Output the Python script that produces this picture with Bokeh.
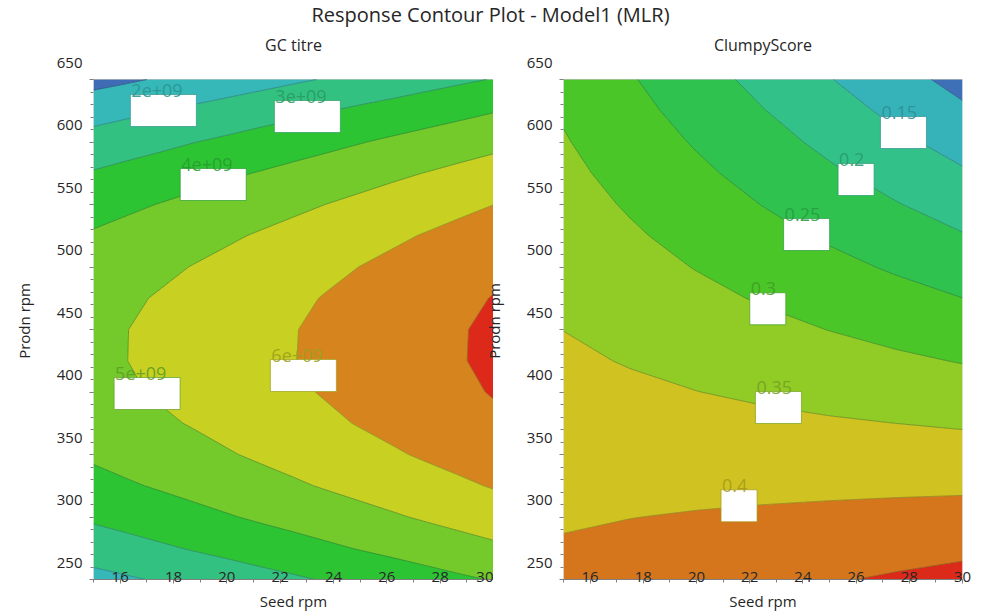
import numpy as np
from bokeh.plotting import figure
from bokeh.layouts import column, row
from bokeh.models import (Label, FixedTicker, Range1d, ColumnDataSource,
                          LinearAxis, BoxAnnotation, CustomJSTickFormatter)
from bokeh.core.properties import value
from bokeh.embed import file_html
from bokeh.resources import INLINE

# ---------------- data ----------------
prodn_rpm = [250, 275, 300, 325, 350, 375, 400, 425, 450,
             475, 500, 525, 550, 575, 600, 625, 650]

# GC titre, in units of 1e9: columns = Seed rpm, rows = Prodn rpm
gc_seed_rpm = [15, 16.25, 17.5, 18.75, 20, 21.25, 22.5, 23.75, 25,
               26.25, 27.5, 28.75, 30]
gc_titre_e9 = [
    [1.70, 1.89, 2.09, 2.29, 2.48, 2.68, 2.87, 3.07, 3.27, 3.46, 3.66, 3.86, 4.05],
    [2.48, 2.67, 2.87, 3.07, 3.26, 3.46, 3.65, 3.85, 4.05, 4.24, 4.44, 4.64, 4.83],
    [3.15, 3.34, 3.54, 3.73, 3.93, 4.13, 4.32, 4.52, 4.72, 4.91, 5.11, 5.30, 5.50],
    [3.70, 3.90, 4.09, 4.29, 4.49, 4.68, 4.88, 5.08, 5.27, 5.47, 5.66, 5.86, 6.06],
    [4.14, 4.34, 4.54, 4.73, 4.93, 5.13, 5.32, 5.52, 5.71, 5.91, 6.11, 6.30, 6.50],
    [4.48, 4.67, 4.87, 5.06, 5.26, 5.46, 5.65, 5.85, 6.05, 6.24, 6.44, 6.63, 6.83],
    [4.69, 4.89, 5.09, 5.28, 5.48, 5.67, 5.87, 6.07, 6.26, 6.46, 6.66, 6.85, 7.05],
    [4.80, 4.995, 5.19, 5.39, 5.58, 5.78, 5.98, 6.17, 6.37, 6.57, 6.76, 6.96, 7.15],
    [4.79, 4.99, 5.18, 5.38, 5.58, 5.77, 5.97, 6.17, 6.36, 6.56, 6.75, 6.95, 7.15],
    [4.67, 4.87, 5.07, 5.26, 5.46, 5.65, 5.85, 6.05, 6.24, 6.44, 6.64, 6.83, 7.03],
    [4.44, 4.64, 4.83, 5.03, 5.23, 5.42, 5.62, 5.82, 6.01, 6.21, 6.40, 6.60, 6.80],
    [4.10, 4.29, 4.49, 4.69, 4.88, 5.08, 5.27, 5.47, 5.67, 5.86, 6.06, 6.26, 6.45],
    [3.64, 3.84, 4.03, 4.23, 4.43, 4.62, 4.82, 5.01, 5.21, 5.41, 5.60, 5.80, 5.995],
    [3.07, 3.27, 3.46, 3.66, 3.86, 4.05, 4.25, 4.45, 4.64, 4.84, 5.03, 5.23, 5.43],
    [2.39, 2.59, 2.78, 2.98, 3.17, 3.37, 3.57, 3.76, 3.96, 4.16, 4.35, 4.55, 4.74],
    [1.60, 1.79, 1.99, 2.18, 2.38, 2.58, 2.77, 2.97, 3.17, 3.36, 3.56, 3.75, 3.95],
    [0.69, 0.88, 1.08, 1.28, 1.47, 1.67, 1.87, 2.06, 2.26, 2.45, 2.65, 2.85, 3.04],
]

# ClumpyScore: columns = Seed rpm, rows = Prodn rpm
cs_seed_rpm = [15, 17.5, 20, 22.5, 25, 27.5, 30]
clumpy_score = [
    [0.4114, 0.4202, 0.4289, 0.4377, 0.4464, 0.4552, 0.4639],
    [0.4037, 0.4098, 0.4158, 0.4220, 0.4280, 0.4341, 0.4402],
    [0.3959, 0.3994, 0.4028, 0.4062, 0.4096, 0.4131, 0.4164],
    [0.3882, 0.3890, 0.3897, 0.3905, 0.3912, 0.3920, 0.3927],
    [0.3805, 0.3786, 0.3767, 0.3748, 0.3728, 0.3709, 0.3689],
    [0.3728, 0.3682, 0.3636, 0.3590, 0.3544, 0.3499, 0.3452],
    [0.3651, 0.3578, 0.3505, 0.3433, 0.3360, 0.3288, 0.3215],
    [0.3573, 0.3474, 0.3375, 0.3276, 0.3176, 0.3077, 0.2977],
    [0.3496, 0.3370, 0.3244, 0.3118, 0.2992, 0.2866, 0.2740],
    [0.3419, 0.3266, 0.3113, 0.2961, 0.2808, 0.2656, 0.2503],
    [0.3342, 0.3162, 0.2983, 0.2804, 0.2624, 0.2445, 0.2265],
    [0.3264, 0.3059, 0.2852, 0.2646, 0.2440, 0.2234, 0.2028],
    [0.3187, 0.2955, 0.2722, 0.2489, 0.2256, 0.2024, 0.1791],
    [0.3110, 0.2851, 0.2591, 0.2332, 0.2072, 0.1813, 0.1553],
    [0.3033, 0.2747, 0.2460, 0.2174, 0.1888, 0.1602, 0.1316],
    [0.2955, 0.2643, 0.2330, 0.2017, 0.1704, 0.1391, 0.1078],
    [0.2878, 0.2539, 0.2199, 0.1860, 0.1520, 0.1181, 0.0841],
]

gc_levels = [0, 1, 2, 3, 4, 5, 6, 7, 8]            # x 1e9
cs_levels = [0.05, 0.1, 0.15, 0.2, 0.25, 0.3, 0.35, 0.4, 0.45, 0.5]

# tick values
seed_ticks = [16, 18, 20, 22, 24, 26, 28, 30]
seed_minor = [15, 17, 19, 21, 23, 25, 27, 29]
prodn_ticks = [250, 300, 350, 400, 450, 500, 550, 600, 650]
prodn_minor = list(range(250, 651, 10))

# contour labels (text and the point of the contour where they sit)
gc_label_text = ["2e+09", "3e+09", "4e+09", "5e+09", "6e+09"]
gc_label_seed = [17.62, 23.02, 19.49, 17.01, 22.87]
gc_label_prodn = [625.2, 620.4, 566.0, 398.8, 413.2]

cs_label_text = ["0.15", "0.2", "0.25", "0.3", "0.35", "0.4"]
cs_label_seed = [27.78, 26.0, 24.14, 22.68, 23.08, 21.6]
cs_label_prodn = [607.6, 570.0, 526.0, 466.6, 387.6, 309.0]

# ---------------- styles ----------------
FONT = "Open Sans"
FONT_V = value(FONT)
TXT = "#262626"
AX = "#7f7f7f"
LABEL_SHIFT = 13.6   # the reference draws its y tick labels ~17 px above the ticks

gc_fill = ["#3e6db5", "#36b8b9", "#33c181", "#2dc434", "#74c92b",
           "#c8d021", "#d6841e", "#dd291a"]
gc_line = ["#2b4c7f", "#2b4c7f", "#268182", "#24875a", "#208924",
           "#518d1e", "#8c9217", "#965c15", "#965c15"]
gc_label_color = ["#2c9490", "#2a9a63", "#279c2c", "#5e9e24", "#9da11d"]
gc_box_w = [66, 66, 66, 66, 66]

cs_fill = ["#3e70b8", "#36b3b8", "#33c18a", "#2fc24e", "#4bc629",
           "#90cb26", "#d0c220", "#d5761c", "#dc2a1a"]
cs_line = ["#2b4e81", "#2b4e81", "#267d81", "#248761", "#218837",
           "#358b1d", "#658e1b", "#928816", "#955314", "#955314"]
cs_label_color = ["#2c8f94", "#2a9a6c", "#279b3f", "#3f9e22", "#76a11f", "#a69b1a"]
cs_box_w = [46, 36, 46, 36, 46, 36]


def make_panel(title, xs, z, levels, fills, lines, ltext, lx, ly, lcol, lw,
               width, b_left, b_right):
    p = figure(width=width, height=590, title=title,
               x_range=Range1d(15, 30),
               y_range=Range1d(250, 650 + LABEL_SHIFT),
               output_backend="svg", toolbar_location=None,
               min_border_left=b_left, min_border_right=b_right,
               min_border_top=38, min_border_bottom=35)
    p.extra_y_ranges = {"lbl": Range1d(250 - LABEL_SHIFT, 650.001)}

    p.contour(x=np.array(xs, dtype=float),
              y=np.array(prodn_rpm, dtype=float),
              z=np.array(z, dtype=float),
              levels=levels, fill_color=fills, line_color=lines,
              line_width=0.8)

    # frame of the data area
    p.add_layout(BoxAnnotation(left=15, right=30, bottom=250, top=650,
                               fill_color=None, fill_alpha=0,
                               line_color=AX, line_width=1))

    src = ColumnDataSource(dict(x=lx, y=ly, text=ltext, color=lcol, w=lw,
                                xo=[-w / 2 + 1 for w in lw]))
    p.rect(x="x", y="y", width="w", height=32, width_units="screen",
           height_units="screen", fill_color="white", line_color="color",
           line_alpha=0.7, line_width=1, source=src)
    p.text(x="x", y="y", text="text", x_offset="xo", y_offset=-20,
           text_color="color", text_alpha=0.9, text_font=FONT_V,
           text_font_size="18px", text_align="left",
           text_baseline="alphabetic", source=src)

    p.title.text_font = FONT
    p.title.text_font_size = "16px"
    p.title.text_font_style = "normal"
    p.title.text_color = TXT
    p.title.align = "center"
    p.title.standoff = 14

    p.xgrid.visible = False
    p.ygrid.visible = False
    p.outline_line_color = None
    p.background_fill_color = "white"
    p.border_fill_color = None

    xa = p.xaxis[0]
    xa.ticker = FixedTicker(ticks=seed_ticks, minor_ticks=seed_minor)
    xa.axis_label = "Seed rpm"
    xa.major_label_standoff = -12
    xa.axis_label_standoff = 6

    # y ticks (marks only)
    ya = p.yaxis[0]
    ya.ticker = FixedTicker(ticks=prodn_ticks, minor_ticks=prodn_minor)
    ya.formatter = CustomJSTickFormatter(code="return ''")
    ya.major_label_standoff = 0
    ya.axis_line_color = None

    # y tick labels + axis title, drawn where the reference has them
    yl = LinearAxis(y_range_name="lbl",
                    ticker=FixedTicker(ticks=prodn_ticks, minor_ticks=[]),
                    axis_label="Prodn rpm")
    yl.axis_line_color = None
    yl.major_tick_out = 0
    yl.major_tick_in = 0
    yl.minor_tick_out = 0
    yl.minor_tick_in = 0
    yl.major_label_standoff = 7
    yl.axis_label_standoff = 20
    p.add_layout(yl, "left")

    for ax in (xa, ya):
        ax.major_tick_line_color = AX
        ax.minor_tick_line_color = AX
        ax.major_tick_out = 4
        ax.major_tick_in = 0
        ax.minor_tick_out = 3
        ax.minor_tick_in = 0
    xa.axis_line_color = AX
    for ax in (xa, yl):
        ax.major_label_text_font = FONT
        ax.major_label_text_font_size = "15px"
        ax.major_label_text_color = TXT
        ax.axis_label_text_font = FONT
        ax.axis_label_text_font_size = "15px"
        ax.axis_label_text_font_style = "normal"
        ax.axis_label_text_color = TXT
    return p


left = make_panel("GC titre", gc_seed_rpm, gc_titre_e9, gc_levels, gc_fill,
                  gc_line, gc_label_text, gc_label_seed, gc_label_prodn,
                  gc_label_color, gc_box_w, 493, 93, 0)
right = make_panel("ClumpyScore", cs_seed_rpm, clumpy_score, cs_levels,
                   cs_fill, cs_line, cs_label_text, cs_label_seed,
                   cs_label_prodn, cs_label_color, cs_box_w, 506, 81, 24)
right.margin = (0, 0, 0, -13)

head = figure(width=986, height=30, min_border=0, x_axis_type=None,
              y_axis_type=None, toolbar_location=None, output_backend="svg",
              outline_line_color=None, border_fill_color=None,
              background_fill_color=None)
head.add_layout(Label(x=490, y=16, x_units="screen", y_units="screen",
                      text="Response Contour Plot - Model1 (MLR)",
                      text_align="center", text_baseline="alphabetic",
                      text_font=FONT, text_font_size="20px", text_color=TXT))

panels = row(left, right)
panels.margin = (-6, 0, 0, 0)
layout = column(head, panels)
open("out.html", "w").write(file_html(layout, INLINE))
